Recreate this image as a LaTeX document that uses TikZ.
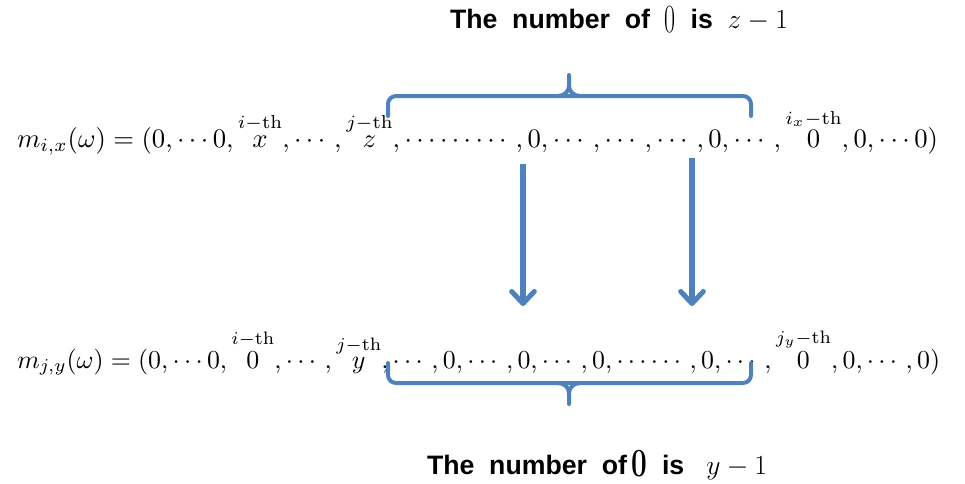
\documentclass[tikz,border=0pt]{standalone}
\usepackage[no-math]{fontspec}
\usepackage{amsmath}
\usepackage{graphicx}
\usetikzlibrary{arrows.meta}
\newfontfamily\labfont{Liberation Sans}
\definecolor{bbl}{RGB}{79,129,189}
\begin{document}
\begin{tikzpicture}[x=0.75pt,y=-0.75pt,
  formula/.style={inner sep=0pt,outer sep=0pt,anchor=base west},
  lab/.style={inner sep=0pt,outer sep=0pt,anchor=base west,font=\labfont\bfseries\fontsize{20}{24}\selectfont},
  bracestyle/.style={draw=bbl,line width=3pt,line cap=round,line join=round},
  arr/.style={draw=bbl,line width=3.8pt,-{Straight Barb[length=9pt,width=17pt,round]}}]
\path[use as bounding box] (0,0) rectangle (965,483);
% labels
\node[lab] (toplab) at (450,28) {The\ \ number\ \ of\ \ \raisebox{-3.5pt}{\scalebox{0.9}[1.5]{\rmfamily\mdseries 0}}\ \ is\ \ $z-1$};
\node[lab] (botlab) at (427,474) {The\ \ number\ \ of\,\raisebox{-1.5pt}{\scalebox{1.05}[1.5]{\rmfamily\bfseries 0}}\ \ is\ \ \ $y-1$};
% formulas
\node[formula] (topf) at (17,147) {\resizebox{690.75pt}{!}{$m_{i,x}(\omega)=(0,\cdots0,\overset{i-\mathrm{th}}{\rule{0pt}{5pt}x},\cdots,\overset{j-\mathrm{th}}{z},\cdots\cdots\cdots,0,\cdots,\cdots,\cdots,0,\cdots,\overset{i_x-\mathrm{th}}{0},0,\cdots0)$}};
\node[formula] (botf) at (17,368) {\resizebox{692.25pt}{!}{$m_{j,y}(\omega)=(0,\cdots0,\overset{i-\mathrm{th}}{\rule{0pt}{7pt}0},\cdots,\overset{j-\mathrm{th}}{y},\cdots,0,\cdots,0,\cdots,0,\cdots\cdots,0,\cdots,\overset{j_y-\mathrm{th}}{0},0,\cdots,0)$}};
% top brace
\draw[bracestyle,rounded corners=6pt] (388,116) |- (569,96) -| (751,116);
\draw[bracestyle] (558,96) to[out=0,in=-90] (569,86) -- (569,75);
\draw[bracestyle] (580,96) to[out=180,in=-90] (569,86);
% bottom brace
\draw[bracestyle,rounded corners=6pt] (388,363) |- (569,383) -| (751,363);
\draw[bracestyle] (558,383) to[out=0,in=90] (569,393) -- (569,404);
\draw[bracestyle] (580,383) to[out=180,in=90] (569,393);
% arrows
\coordinate (a1s) at (523,164);
\coordinate (a1e) at (523,306);
\coordinate (a2s) at (692,158);
\coordinate (a2e) at (692,306);
\draw[arr] (a1s) -- (a1e);
\draw[arr] (a2s) -- (a2e);
\end{tikzpicture}
\end{document}
